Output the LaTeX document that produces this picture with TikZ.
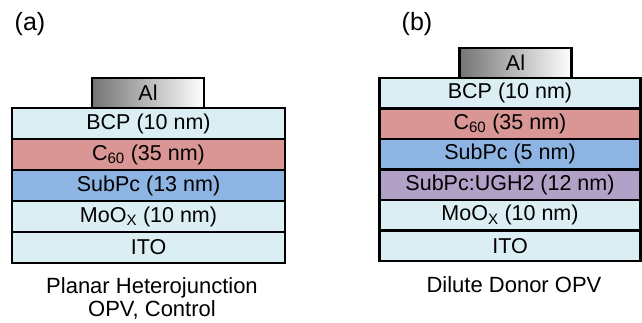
\documentclass[tikz,border=0pt]{standalone}
\usepackage{fontspec}
\setmainfont{Liberation Sans}
\usetikzlibrary{positioning}
\definecolor{itoblue}{HTML}{DBEEF4}
\definecolor{fullred}{HTML}{D99694}
\definecolor{donorblue}{HTML}{8EB4E3}
\definecolor{mixpurple}{HTML}{B2A1C7}
\definecolor{algray}{HTML}{747474}
\tikzset{
  layer/.style={draw=black, line width=2.4pt, rectangle, inner sep=0pt,
    minimum height=#1, font=\fontsize{21.5}{24}\selectfont},
  layer/.default=31pt,
  contact/.style={draw=black, line width=2.4pt, rectangle, inner sep=0pt,
    minimum width=112pt, minimum height=30pt,
    left color=algray, right color=white,
    font=\fontsize{21.5}{24}\selectfont},
  caption/.style={align=center, inner sep=0pt, font=\fontsize{22}{23}\selectfont},
  panel/.style={inner sep=0pt, font=\fontsize{25}{28}\selectfont}
}
\begin{document}
\begin{tikzpicture}[x=1pt, y=-1pt]
  \useasboundingbox (0,0) rectangle (642,323);

  % panel (a): planar heterojunction stack
  \node[panel] (labA) at (30,24) {(a)};
  \begin{scope}[every node/.append style={minimum width=273pt}]
    \node[layer, fill=itoblue]   (itoA)   at (148.5,247.5) {ITO};
    \node[layer, fill=itoblue]   (mooxA)  at (148.5,216.5) {MoO\textsubscript{X} (10 nm)};
    \node[layer, fill=donorblue] (subpcA) at (148.5,185.5) {SubPc (13 nm)};
    \node[layer, fill=fullred]   (csixA)  at (148.5,154.5) {C\textsubscript{60} (35 nm)};
    \node[layer, fill=itoblue]   (bcpA)   at (148.5,123.5) {BCP (10 nm)};
  \end{scope}
  \node[contact] (alA) at (148,93) {Al};
  \node[caption] (capA) at (152,298) {Planar Heterojunction\\OPV, Control};

  % panel (b): dilute donor stack
  \node[panel] (labB) at (417,24) {(b)};
  \begin{scope}[every node/.append style={minimum width=261pt}]
    \node[layer=30.5pt, fill=itoblue]    (itoB)   at (510,245.75) {ITO};
    \node[layer=30.5pt, fill=itoblue]    (mooxB)  at (510,215.25) {MoO\textsubscript{X} (10 nm)};
    \node[layer=30.5pt, fill=mixpurple]  (mixB)   at (510,184.75) {SubPc:UGH2 (12 nm)};
    \node[layer=30.5pt, fill=donorblue]  (subpcB) at (510,154.25) {SubPc (5 nm)};
    \node[layer=30.5pt, fill=fullred]    (csixB)  at (510,123.75) {C\textsubscript{60} (35 nm)};
    \node[layer=30.5pt, fill=itoblue]    (bcpB)   at (510,93.25)  {BCP (10 nm)};
  \end{scope}
  \node[contact] (alB) at (515.5,63) {Al};
  \node[caption] (capB) at (514,285) {Dilute Donor OPV};
\end{tikzpicture}
\end{document}
